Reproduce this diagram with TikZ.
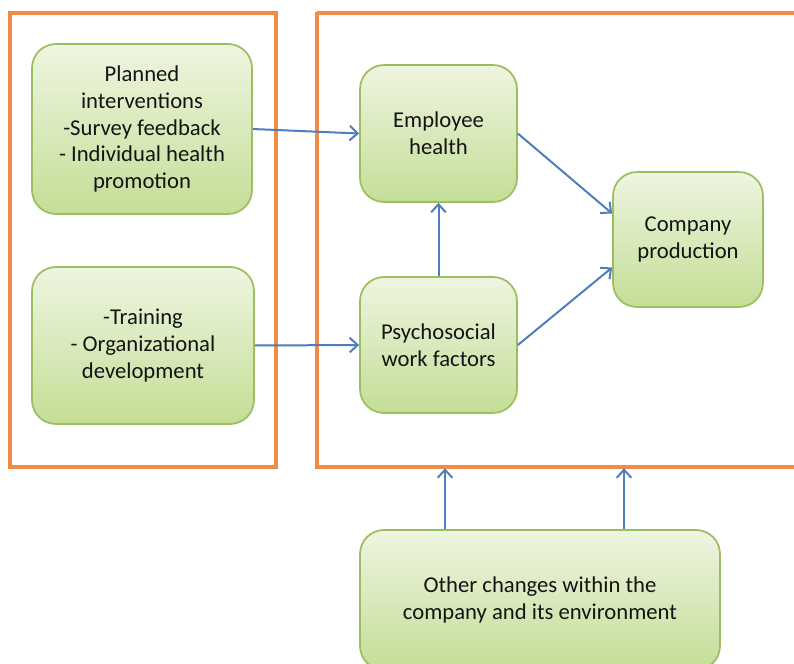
\documentclass[tikz,border=0pt]{standalone}
\usepackage{fontspec}
\setmainfont{Carlito}
\usetikzlibrary{arrows.meta}
\definecolor{frameor}{RGB}{240,140,70}
\definecolor{boxedge}{RGB}{155,190,95}
\definecolor{boxtop}{RGB}{238,245,225}
\definecolor{boxbot}{RGB}{196,222,150}
\definecolor{arrowblue}{RGB}{80,125,190}
\definecolor{txt}{RGB}{20,20,20}
\tikzset{
  gbox/.style={draw=boxedge, line width=1.3pt, rounded corners=18pt,
    top color=boxtop, bottom color=boxbot, align=center, text=txt,
    font=\fontsize{17}{20.2}\selectfont, inner sep=0pt},
  frame/.style={draw=frameor, line width=2.3pt},
  conn/.style={draw=arrowblue, line width=1.5pt, -{Straight Barb[length=6pt,width=11pt,line width=1.5pt]}}
}
\begin{document}
\begin{tikzpicture}[x=0.75pt,y=-0.75pt]
\useasboundingbox (0,0) rectangle (794,664);
% frames
\draw[frame] (10,13) rectangle (276,467);
\draw[frame] (317,13) -- (800,13);
\draw[frame] (317,11.5) -- (317,467) -- (800,467);
% boxes
\node[gbox, minimum width=165pt, minimum height=127.5pt] (plan) at (142,129)
  {Planned\\interventions\\-Survey feedback\\- Individual health\\promotion};
\node[gbox, minimum width=166.5pt, minimum height=117.75pt] (train) at (143,345.5)
  {-Training\\- Organizational\\development};
\node[gbox, minimum width=117.75pt, minimum height=102.75pt] (emp) at (438.5,133.5)
  {Employee\\health};
\node[gbox, minimum width=117.75pt, minimum height=102pt] (psy) at (438.5,345)
  {Psychosocial\\work factors};
\node[gbox, minimum width=112.5pt, minimum height=101.25pt] (comp) at (688,239.5)
  {Company\\production};
\node[gbox, minimum width=270pt, minimum height=105pt] (other) at (540,600)
  {Other changes within the\\company and its environment};
% connectors
\draw[conn] (plan.east) -- (emp.west);
\draw[conn] (train.east) -- (psy.west);
\draw[conn] (psy.north) -- (emp.south);
\draw[conn] (emp.east) -- ([yshift=19.5pt]comp.west);
\draw[conn] (psy.east) -- ([yshift=-21pt]comp.west);
\coordinate (f1) at (445,467);
\coordinate (f2) at (624,467);
\draw[conn] (other.north -| f1) -- ([yshift=-1pt]f1);
\draw[conn] (other.north -| f2) -- ([yshift=-1pt]f2);
\end{tikzpicture}
\end{document}
